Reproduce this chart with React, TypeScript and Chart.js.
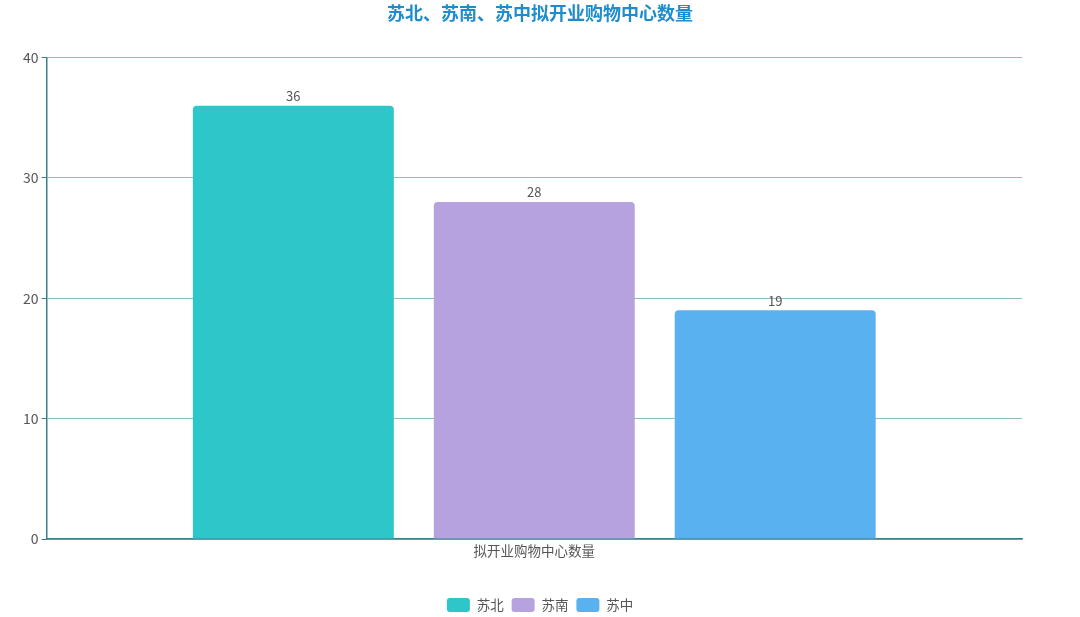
import { useEffect, useRef } from 'react';
import { Chart, registerables, Plugin } from 'chart.js';

Chart.register(...registerables);

const categories = ['拟开业购物中心数量'];
const regions = ['苏北', '苏南', '苏中'];
const counts = [36, 28, 19];
const colors = ['#2ec7c9', '#b6a2de', '#5ab1ef'];
const yTicks = [0, 10, 20, 30, 40];

const FONT = '"Noto Sans CJK SC", "Noto Sans", sans-serif';

const valueLabels: Plugin<'bar'> = {
  id: 'valueLabels',
  afterDatasetsDraw(chart) {
    const { ctx } = chart;
    ctx.save();
    ctx.font = `13px ${FONT}`;
    ctx.fillStyle = '#555';
    ctx.textAlign = 'center';
    ctx.textBaseline = 'bottom';
    chart.data.datasets.forEach((ds, i) => {
      const meta = chart.getDatasetMeta(i);
      meta.data.forEach((bar, j) => {
        ctx.fillText(String(ds.data[j]), bar.x, bar.y - 3);
      });
    });
    ctx.restore();
  },
};

export default function App() {
  const canvasRef = useRef<HTMLCanvasElement>(null);
  const chartRef = useRef<Chart | null>(null);

  useEffect(() => {
    document.body.style.margin = '0';
    if (!canvasRef.current) return;
    if (chartRef.current) chartRef.current.destroy();

    chartRef.current = new Chart(canvasRef.current, {
      type: 'bar',
      data: {
        labels: categories,
        datasets: regions.map((name, i) => ({
          label: name,
          data: [counts[i]],
          backgroundColor: colors[i],
          borderRadius: { topLeft: 4, topRight: 4 },
          borderSkipped: 'bottom',
          barPercentage: 0.834,
          categoryPercentage: 0.741,
        })),
      },
      options: {
        responsive: true,
        maintainAspectRatio: false,
        animation: false,
        layout: { padding: { left: 20, right: 20, top: 0, bottom: -5 } },
        plugins: {
          title: {
            display: true,
            text: '苏北、苏南、苏中拟开业购物中心数量',
            color: '#1f8ccb',
            font: { family: FONT, size: 18, weight: 'bold' },
            padding: { top: 2, bottom: 34 },
          },
          legend: {
            position: 'bottom',
            labels: {
              color: '#555',
              font: { family: FONT, size: 13.5 },
              boxWidth: 23,
              boxHeight: 14,
              useBorderRadius: true,
              borderRadius: 3,
              padding: 8,
            },
          },
          tooltip: { enabled: false },
        },
        scales: {
          x: {
            grid: { display: false, drawTicks: false },
            border: { color: '#3f7f8a', width: 1.5 },
            ticks: { color: '#555', font: { family: FONT, size: 13.5 }, padding: 4 },
            afterFit: (s) => {
              s.height = 51;
            },
          },
          y: {
            min: 0,
            max: 40,
            afterBuildTicks: (axis) => {
              axis.ticks = yTicks.map((v) => ({ value: v }));
            },
            grid: { color: '#8dbcbf', tickColor: '#3f7f8a', tickLength: 5 },
            border: { color: '#3f7f8a', width: 1.5 },
            ticks: { color: '#555', font: { family: FONT, size: 14 }, padding: 3 },
          },
          spacer: {
            type: 'linear',
            position: 'right',
            display: true,
            grid: { display: false },
            border: { display: false },
            ticks: { display: false },
            afterFit: (s) => {
              s.width = 38;
            },
          },
        },
      },
      plugins: [valueLabels],
    });

    return () => {
      chartRef.current?.destroy();
    };
  }, []);

  return (
    <div style={{ width: 1080, height: 617, position: 'relative' }}>
      <canvas ref={canvasRef} />
    </div>
  );
}
